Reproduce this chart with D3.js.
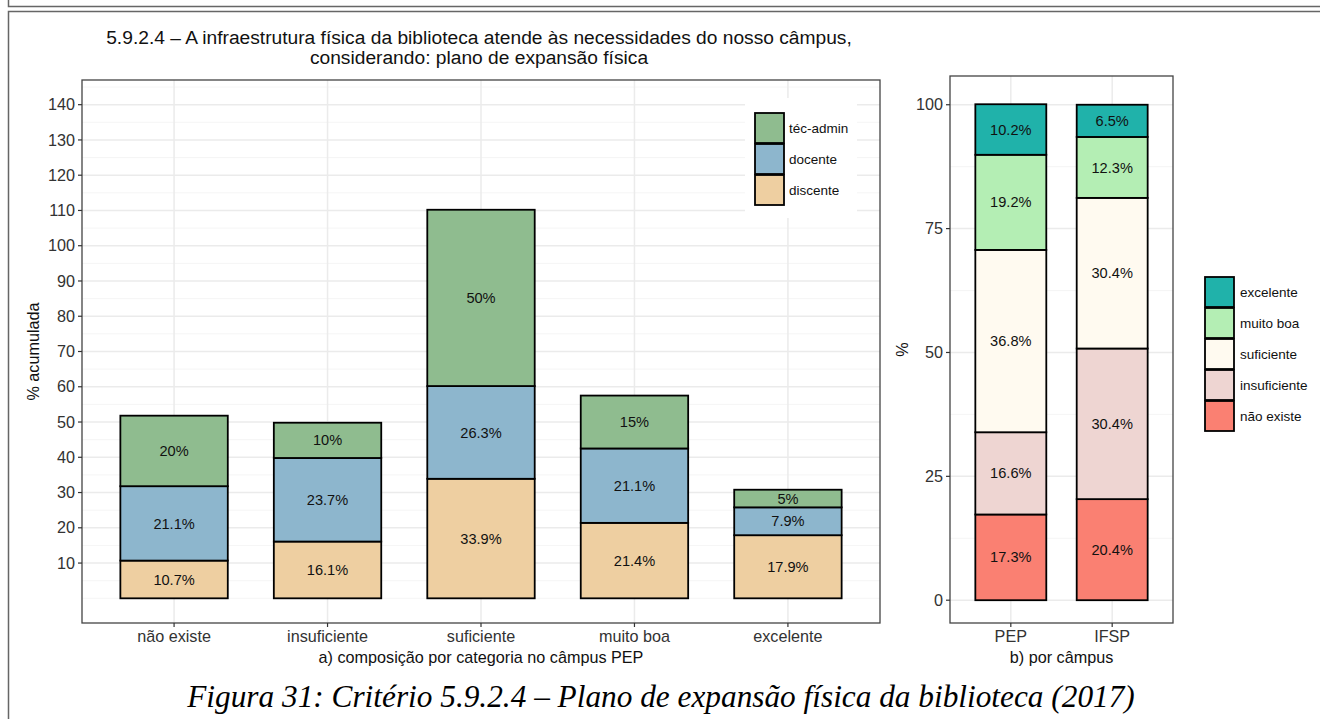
<!DOCTYPE html>
<html>
<head>
<meta charset="utf-8">
<script src="https://cdn.jsdelivr.net/npm/d3@7"></script>
<style>
  body { margin: 0; background: #fff; }
  svg { display: block; font-family: "Liberation Sans", Arial, sans-serif; }
</style>
</head>
<body>
<script>
// data: panel a) composition by category (campus PEP)
const categories = ['não existe', 'insuficiente', 'suficiente', 'muito boa', 'excelente'];
const groups = ['discente', 'docente', 'téc-admin'];
const discente = [10.7, 16.1, 33.9, 21.4, 17.9];
const docente = [21.1, 23.7, 26.3, 21.1, 7.9];
const tecAdmin = [20, 10, 50, 15, 5];
const leftTicks = [10, 20, 30, 40, 50, 60, 70, 80, 90, 100, 110, 120, 130, 140];

// data: panel b) by campus
const campuses = ['PEP', 'IFSP'];
const levels = ['não existe', 'insuficiente', 'suficiente', 'muito boa', 'excelente'];
const pepValues = [17.3, 16.6, 36.8, 19.2, 10.2];
const ifspValues = [20.4, 30.4, 30.4, 12.3, 6.5];
const rightTicks = [0, 25, 50, 75, 100];

const groupColors = ['#eecfa1', '#8db6cd', '#8fbc8f'];
const levelColors = ['#fa8072', '#eed5d2', '#fffaf0', '#b4eeb4', '#20b2aa'];

const width = 1320, height = 719;
const svg = d3.select('body').append('svg')
  .attr('width', width)
  .attr('height', height);

// page frame lines
const frame = svg.append('g').attr('stroke', '#666').attr('stroke-width', 1.5).attr('fill', 'none');
frame.append('path').attr('d', `M8.5,0 V6.5 H${width}`);
frame.append('path').attr('d', `M8.5,${height} V11.5 H${width}`);

const gridMajor = '#ebebeb', gridMinor = '#f2f2f2', axisText = '#333';
const tickSize = 16.2, labelSize = 14.6;

// title
const title = svg.append('text')
  .attr('text-anchor', 'middle')
  .attr('font-size', 19.2)
  .attr('fill', '#111');
title.append('tspan').attr('x', 479).attr('y', 43.5)
  .text('5.9.2.4 – A infraestrutura física da biblioteca atende às necessidades do nosso câmpus,');
title.append('tspan').attr('x', 479).attr('y', 63.5)
  .text('considerando: plano de expansão física');

// ---------- left panel ----------
const L = { left: 82, right: 880, top: 80, bottom: 623 };
const xL = d3.scalePoint().domain(categories).range([L.left, L.right]).padding(0.6);
const yL = d3.scaleLinear().domain([-7, 147]).range([L.bottom, L.top]);
const bwL = xL.step() * 0.7;

const gL = svg.append('g');
gL.append('rect')
  .attr('x', L.left).attr('y', L.top)
  .attr('width', L.right - L.left).attr('height', L.bottom - L.top)
  .attr('fill', '#fff');

const minorL = d3.range(0, 150, 10).map(d => d + 5).concat([0]);
gL.selectAll('.minor').data(minorL).join('line')
  .attr('x1', L.left).attr('x2', L.right)
  .attr('y1', d => yL(d)).attr('y2', d => yL(d))
  .attr('stroke', gridMinor).attr('stroke-width', 0.8);
gL.selectAll('.major').data(leftTicks).join('line')
  .attr('x1', L.left).attr('x2', L.right)
  .attr('y1', d => yL(d)).attr('y2', d => yL(d))
  .attr('stroke', gridMajor).attr('stroke-width', 1.5);
gL.selectAll('.vgrid').data(categories).join('line')
  .attr('x1', d => xL(d)).attr('x2', d => xL(d))
  .attr('y1', L.top).attr('y2', L.bottom)
  .attr('stroke', gridMajor).attr('stroke-width', 1.5);

// legend background (inside panel)
const legL = { x: 745, y: 98, w: 112, h: 120 };
gL.append('rect')
  .attr('x', legL.x).attr('y', legL.y).attr('width', legL.w).attr('height', legL.h)
  .attr('fill', '#fff');

// stacks
const leftRows = categories.map((c, i) => ({ cat: c, discente: discente[i], docente: docente[i], 'téc-admin': tecAdmin[i] }));
const stackL = d3.stack().keys(groups)(leftRows);
stackL.forEach((layer, gi) => {
  const g = gL.append('g');
  g.selectAll('rect').data(layer).join('rect')
    .attr('x', d => xL(d.data.cat) - bwL / 2)
    .attr('y', d => yL(d[1]))
    .attr('width', bwL)
    .attr('height', d => yL(d[0]) - yL(d[1]))
    .attr('fill', groupColors[gi])
    .attr('stroke', '#000').attr('stroke-width', 1.8);
  g.selectAll('text').data(layer).join('text')
    .attr('x', d => xL(d.data.cat))
    .attr('y', d => yL((d[0] + d[1]) / 2))
    .attr('dy', '0.35em')
    .attr('text-anchor', 'middle')
    .attr('font-size', labelSize)
    .attr('fill', '#111')
    .text(d => (d[1] - d[0]).toFixed(1).replace(/\.0$/, '') + '%');
});

gL.append('rect')
  .attr('x', L.left).attr('y', L.top)
  .attr('width', L.right - L.left).attr('height', L.bottom - L.top)
  .attr('fill', 'none').attr('stroke', '#444').attr('stroke-width', 1.3);

// left legend keys (top-down: téc-admin, docente, discente)
const legOrder = groups.slice().reverse();
legOrder.forEach((gname, i) => {
  const ci = groups.indexOf(gname);
  const ky = 113 + i * 31;
  gL.append('rect')
    .attr('x', 755).attr('y', ky).attr('width', 29).attr('height', 30)
    .attr('fill', groupColors[ci]).attr('stroke', '#000').attr('stroke-width', 1.8);
  gL.append('text')
    .attr('x', 789).attr('y', ky + 15).attr('dy', '0.35em')
    .attr('font-size', 13.5).attr('fill', '#111')
    .text(gname);
});

// left axes
const axL = gL.append('g');
axL.selectAll('.yt').data(leftTicks).join('line')
  .attr('x1', L.left - 4).attr('x2', L.left)
  .attr('y1', d => yL(d)).attr('y2', d => yL(d))
  .attr('stroke', '#333').attr('stroke-width', 1.2);
axL.selectAll('.yl').data(leftTicks).join('text')
  .attr('x', L.left - 7).attr('y', d => yL(d)).attr('dy', '0.35em')
  .attr('text-anchor', 'end').attr('font-size', tickSize).attr('fill', axisText)
  .text(d => d);
axL.selectAll('.xt').data(categories).join('line')
  .attr('x1', d => xL(d)).attr('x2', d => xL(d))
  .attr('y1', L.bottom).attr('y2', L.bottom + 4)
  .attr('stroke', '#333').attr('stroke-width', 1.2);
axL.selectAll('.xl').data(categories).join('text')
  .attr('x', d => xL(d)).attr('y', L.bottom + 19)
  .attr('text-anchor', 'middle').attr('font-size', tickSize).attr('fill', axisText)
  .text(d => d);
axL.append('text')
  .attr('x', (L.left + L.right) / 2).attr('y', 663)
  .attr('text-anchor', 'middle').attr('font-size', tickSize).attr('fill', '#111')
  .text('a) composição por categoria no câmpus PEP');
axL.append('text')
  .attr('transform', `translate(39,${(L.top + L.bottom) / 2}) rotate(-90)`)
  .attr('text-anchor', 'middle').attr('font-size', tickSize).attr('fill', '#111')
  .text('% acumulada');

// ---------- right panel ----------
const R = { left: 950, right: 1173, top: 76, bottom: 623 };
const xR = d3.scalePoint().domain(campuses).range([R.left, R.right]).padding(0.6);
const yR = d3.scaleLinear().domain([-4.6, 105.8]).range([R.bottom, R.top]);
const bwR = xR.step() * 0.7;

const gR = svg.append('g');
gR.selectAll('.minor').data([12.5, 37.5, 62.5, 87.5]).join('line')
  .attr('x1', R.left).attr('x2', R.right)
  .attr('y1', d => yR(d)).attr('y2', d => yR(d))
  .attr('stroke', gridMinor).attr('stroke-width', 0.8);
gR.selectAll('.major').data(rightTicks).join('line')
  .attr('x1', R.left).attr('x2', R.right)
  .attr('y1', d => yR(d)).attr('y2', d => yR(d))
  .attr('stroke', gridMajor).attr('stroke-width', 1.5);
gR.selectAll('.vgrid').data(campuses).join('line')
  .attr('x1', d => xR(d)).attr('x2', d => xR(d))
  .attr('y1', R.top).attr('y2', R.bottom)
  .attr('stroke', gridMajor).attr('stroke-width', 1.5);

const rightRows = [pepValues, ifspValues].map((vals, i) => {
  const row = { campus: campuses[i] };
  levels.forEach((l, j) => { row[l] = vals[j]; });
  return row;
});
const stackR = d3.stack().keys(levels)(rightRows);
stackR.forEach((layer, li) => {
  const g = gR.append('g');
  g.selectAll('rect').data(layer).join('rect')
    .attr('x', d => xR(d.data.campus) - bwR / 2)
    .attr('y', d => yR(d[1]))
    .attr('width', bwR)
    .attr('height', d => yR(d[0]) - yR(d[1]))
    .attr('fill', levelColors[li])
    .attr('stroke', '#000').attr('stroke-width', 1.8);
  g.selectAll('text').data(layer).join('text')
    .attr('x', d => xR(d.data.campus))
    .attr('y', d => yR((d[0] + d[1]) / 2))
    .attr('dy', '0.35em')
    .attr('text-anchor', 'middle')
    .attr('font-size', labelSize)
    .attr('fill', '#111')
    .text(d => (d[1] - d[0]).toFixed(1) + '%');
});

gR.append('rect')
  .attr('x', R.left).attr('y', R.top)
  .attr('width', R.right - R.left).attr('height', R.bottom - R.top)
  .attr('fill', 'none').attr('stroke', '#444').attr('stroke-width', 1.3);

gR.selectAll('.yt').data(rightTicks).join('line')
  .attr('x1', R.left - 4).attr('x2', R.left)
  .attr('y1', d => yR(d)).attr('y2', d => yR(d))
  .attr('stroke', '#333').attr('stroke-width', 1.2);
gR.selectAll('.yl').data(rightTicks).join('text')
  .attr('x', R.left - 7).attr('y', d => yR(d)).attr('dy', '0.35em')
  .attr('text-anchor', 'end').attr('font-size', tickSize).attr('fill', axisText)
  .text(d => d);
gR.selectAll('.xt').data(campuses).join('line')
  .attr('x1', d => xR(d)).attr('x2', d => xR(d))
  .attr('y1', R.bottom).attr('y2', R.bottom + 4)
  .attr('stroke', '#333').attr('stroke-width', 1.2);
gR.selectAll('.xl').data(campuses).join('text')
  .attr('x', d => xR(d)).attr('y', R.bottom + 19)
  .attr('text-anchor', 'middle').attr('font-size', tickSize).attr('fill', axisText)
  .text(d => d);
gR.append('text')
  .attr('x', (R.left + R.right) / 2).attr('y', 663)
  .attr('text-anchor', 'middle').attr('font-size', tickSize).attr('fill', '#111')
  .text('b) por câmpus');
gR.append('text')
  .attr('transform', `translate(908,${(R.top + R.bottom) / 2}) rotate(-90)`)
  .attr('text-anchor', 'middle').attr('font-size', tickSize).attr('fill', '#111')
  .text('%');

// right legend (top-down: excelente ... não existe)
levels.slice().reverse().forEach((lname, i) => {
  const ci = levels.indexOf(lname);
  const ky = 277 + i * 31;
  gR.append('rect')
    .attr('x', 1205).attr('y', ky).attr('width', 29).attr('height', 30)
    .attr('fill', levelColors[ci]).attr('stroke', '#000').attr('stroke-width', 1.8);
  gR.append('text')
    .attr('x', 1240).attr('y', ky + 15).attr('dy', '0.35em')
    .attr('font-size', 13.5).attr('fill', '#111')
    .text(lname);
});

// caption
svg.append('text')
  .attr('x', 661).attr('y', 707)
  .attr('text-anchor', 'middle')
  .attr('font-family', '"Liberation Serif", "DejaVu Serif", serif')
  .attr('font-style', 'italic')
  .attr('font-size', 31.3)
  .attr('fill', '#000')
  .text('Figura 31: Critério 5.9.2.4 – Plano de expansão física da biblioteca (2017)');
</script>
</body>
</html>
